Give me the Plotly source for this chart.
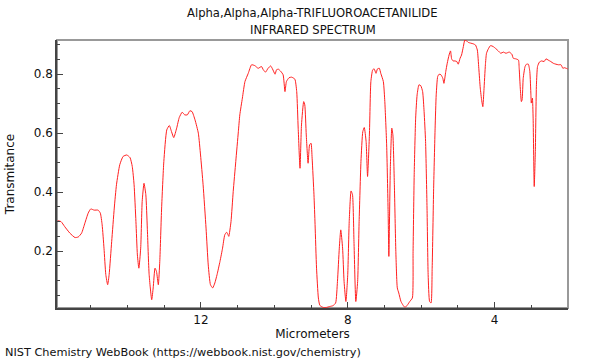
import plotly.graph_objects as go

# Wavelength (micrometers) and transmittance
wavelength_um = [
    15.90, 15.81, 15.71, 15.57, 15.43, 15.34, 15.25, 15.16, 15.07, 15.00,
    14.91, 14.80, 14.74, 14.69, 14.64, 14.59, 14.54, 14.50, 14.43, 14.36,
    14.30, 14.21, 14.12, 14.02, 13.93, 13.87, 13.82, 13.77, 13.73, 13.69,
    13.64, 13.60, 13.55, 13.50, 13.46, 13.41, 13.34, 13.30, 13.25, 13.21,
    13.16, 13.12, 13.07, 13.01, 12.93, 12.86, 12.80, 12.74, 12.66, 12.59,
    12.51, 12.44, 12.37, 12.30, 12.24, 12.16, 12.07, 12.01, 11.94, 11.86,
    11.80, 11.74, 11.68, 11.62, 11.56, 11.48, 11.41, 11.35, 11.30, 11.26,
    11.24, 11.18, 11.12, 11.05, 10.98, 10.94, 10.87, 10.80, 10.71, 10.62,
    10.53, 10.44, 10.35, 10.30, 10.24, 10.17, 10.10, 10.05, 9.98, 9.94,
    9.89, 9.82, 9.76, 9.71, 9.67, 9.60, 9.53, 9.44, 9.39, 9.35,
    9.30, 9.26, 9.20, 9.17, 9.13, 9.08, 9.04, 9.00, 8.97, 8.92,
    8.89, 8.85, 8.80, 8.76, 8.67, 8.58, 8.49, 8.40, 8.33, 8.28,
    8.23, 8.19, 8.14, 8.10, 8.05, 8.00, 7.96, 7.91, 7.87, 7.83,
    7.78, 7.73, 7.69, 7.64, 7.59, 7.55, 7.50, 7.46, 7.41, 7.37,
    7.32, 7.28, 7.23, 7.19, 7.14, 7.10, 7.03, 6.99, 6.94, 6.90,
    6.88, 6.84, 6.80, 6.77, 6.73, 6.69, 6.65, 6.61, 6.55, 6.49,
    6.44, 6.37, 6.31, 6.24, 6.22, 6.19, 6.15, 6.11, 6.06, 6.01,
    5.96, 5.92, 5.88, 5.84, 5.81, 5.77, 5.73, 5.70, 5.66, 5.62,
    5.59, 5.55, 5.51, 5.46, 5.41, 5.38, 5.33, 5.29, 5.24, 5.20,
    5.17, 5.13, 5.08, 5.03, 4.99, 4.94, 4.90, 4.85, 4.81, 4.76,
    4.72, 4.64, 4.58, 4.52, 4.47, 4.43, 4.39, 4.35, 4.32, 4.29,
    4.25, 4.22, 4.17, 4.11, 4.04, 3.96, 3.90, 3.83, 3.76, 3.69,
    3.60, 3.53, 3.49, 3.42, 3.35, 3.33, 3.30, 3.27, 3.25, 3.22,
    3.17, 3.13, 3.08, 3.04, 3.01, 3.00, 2.97, 2.95, 2.92, 2.89,
    2.86, 2.83, 2.78, 2.72, 2.65, 2.60, 2.54, 2.47, 2.40, 2.33,
    2.26, 2.19, 2.14, 2.10, 2.05, 2.01,
]

transmittance = [
    0.303, 0.300, 0.283, 0.261, 0.246, 0.248, 0.261, 0.295, 0.329, 0.343,
    0.339, 0.339, 0.329, 0.289, 0.210, 0.120, 0.086, 0.120, 0.233, 0.346,
    0.425, 0.493, 0.521, 0.526, 0.517, 0.487, 0.425, 0.300, 0.187, 0.142,
    0.210, 0.368, 0.430, 0.391, 0.278, 0.120, 0.035, 0.075, 0.142, 0.131,
    0.086, 0.165, 0.346, 0.504, 0.611, 0.626, 0.605, 0.585, 0.617, 0.653,
    0.671, 0.662, 0.662, 0.676, 0.673, 0.645, 0.600, 0.526, 0.425, 0.278,
    0.153, 0.086, 0.075, 0.092, 0.120, 0.165, 0.210, 0.255, 0.264, 0.255,
    0.250, 0.300, 0.402, 0.504, 0.605, 0.662, 0.719, 0.775, 0.803, 0.832,
    0.829, 0.820, 0.826, 0.815, 0.807, 0.820, 0.828, 0.818, 0.800, 0.815,
    0.817, 0.809, 0.798, 0.741, 0.775, 0.788, 0.790, 0.783, 0.741, 0.617,
    0.481, 0.628, 0.707, 0.696, 0.594, 0.498, 0.560, 0.566, 0.515, 0.391,
    0.290, 0.142, 0.041, 0.016, 0.009, 0.009, 0.012, 0.015, 0.024, 0.097,
    0.210, 0.272, 0.210, 0.097, 0.029, 0.120, 0.300, 0.404, 0.391, 0.233,
    0.029, 0.097, 0.300, 0.504, 0.605, 0.619, 0.572, 0.453, 0.594, 0.775,
    0.815, 0.818, 0.803, 0.818, 0.820, 0.803, 0.775, 0.707, 0.560, 0.334,
    0.182, 0.481, 0.617, 0.594, 0.425, 0.199, 0.075, 0.058, 0.029, 0.016,
    0.009, 0.018, 0.029, 0.041, 0.199, 0.459, 0.651, 0.730, 0.764, 0.761,
    0.741, 0.673, 0.572, 0.346, 0.120, 0.029, 0.024, 0.142, 0.413, 0.617,
    0.730, 0.792, 0.800, 0.798, 0.786, 0.769, 0.809, 0.837, 0.865, 0.879,
    0.852, 0.845, 0.845, 0.843, 0.834, 0.854, 0.865, 0.894, 0.916, 0.913,
    0.908, 0.905, 0.903, 0.899, 0.882, 0.820, 0.753, 0.710, 0.690, 0.745,
    0.832, 0.871, 0.886, 0.897, 0.894, 0.886, 0.879, 0.871, 0.875, 0.871,
    0.875, 0.868, 0.854, 0.852, 0.848, 0.820, 0.753, 0.707, 0.713, 0.786,
    0.826, 0.834, 0.834, 0.809, 0.730, 0.702, 0.719, 0.651, 0.419, 0.538,
    0.764, 0.826, 0.841, 0.845, 0.843, 0.852, 0.848, 0.843, 0.837, 0.834,
    0.832, 0.832, 0.820, 0.822, 0.820, 0.818,
]

x_tick_vals = [12, 8, 4]
y_tick_vals = [0.2, 0.4, 0.6, 0.8]

title_line1 = "Alpha,Alpha,Alpha-TRIFLUOROACETANILIDE"
title_line2 = "INFRARED SPECTRUM"
footer_text = "NIST Chemistry WebBook (https://webbook.nist.gov/chemistry)"

FONT = "DejaVu Sans"

fig = go.Figure()
fig.add_trace(go.Scatter(
    x=wavelength_um, y=transmittance, mode="lines",
    line=dict(color="#ff2020", width=1, shape="spline", smoothing=0.5),
    hoverinfo="skip", showlegend=False,
))

ML, MR, MT, MB = 57, 32, 40, 52
W, H = 600, 360
PW, PH = W - ML - MR, H - MT - MB

def py(px):
    return 1 + (MT - px) / PH

def px_(x):
    return (x - ML) / PW

fig.update_layout(
    width=W, height=H,
    margin=dict(l=ML, r=MR, t=MT, b=MB, pad=0, autoexpand=False),
    paper_bgcolor="white", plot_bgcolor="white",
    font=dict(family=FONT, size=12, color="#111"),
    xaxis=dict(
        range=[15.92, 2.0], tickvals=x_tick_vals, ticktext=[str(v) for v in x_tick_vals],
        ticks="inside", ticklen=6, tickwidth=1, tickcolor="#444",
        minor=dict(dtick=1, tick0=0, ticks="inside", ticklen=3, tickcolor="#444"),
        showgrid=False, zeroline=False, showline=True, linecolor="#444", linewidth=1.5,
        title=dict(text="Micrometers", standoff=0, font=dict(size=12)),
        tickfont=dict(size=12), automargin=False,
    ),
    yaxis=dict(
        range=[0.007, 0.916], tickvals=y_tick_vals, ticktext=[f"{v:.1f}" for v in y_tick_vals],
        ticks="inside", ticklen=6, tickwidth=1, tickcolor="#444",
        minor=dict(dtick=0.05, tick0=0, ticks="inside", ticklen=3, tickcolor="#444"),
        showgrid=False, zeroline=False, showline=True, linecolor="#444", linewidth=1.5,
        title=dict(text="Transmitance", standoff=17, font=dict(size=12)),
        tickfont=dict(size=12), automargin=False,
    ),
    shapes=[
        dict(type="rect", xref="paper", yref="paper", x0=0, x1=1, y0=0, y1=1,
             line=dict(color="#999", width=2), layer="below"),
    ],
    annotations=[
        dict(text=title_line1, xref="paper", yref="paper", x=0.5, y=py(13),
             xanchor="center", yanchor="middle", showarrow=False, font=dict(size=11.6, color="#111")),
        dict(text=title_line2, xref="paper", yref="paper", x=0.5, y=py(30),
             xanchor="center", yanchor="middle", showarrow=False, font=dict(size=11.6, color="#111")),
        dict(text=footer_text, xref="paper", yref="paper", x=px_(3), y=py(352),
             xanchor="left", yanchor="middle", showarrow=False, font=dict(size=11.3, color="#111")),
    ],
)

fig.write_html("out.html", config={"displayModeBar": False},
               post_script="document.body.style.margin='0';document.body.style.padding='0';")
